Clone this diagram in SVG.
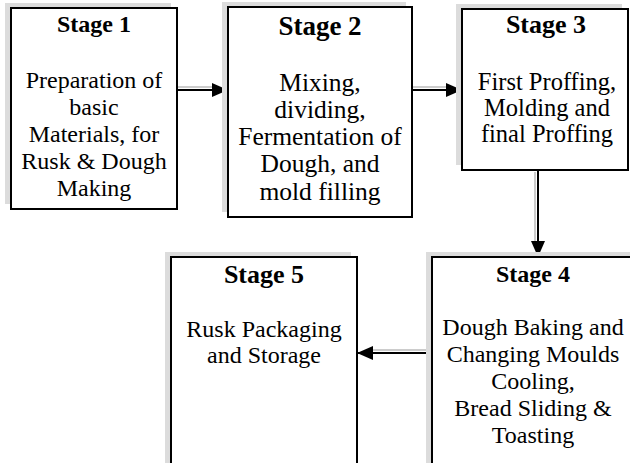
<svg xmlns="http://www.w3.org/2000/svg" width="630" height="463" viewBox="0 0 630 463">
<style>
.box{fill:#ffffff;stroke:#000000;stroke-width:2}
.shadow{fill:#dcdcdc}
.title{font-family:"Liberation Serif","Times New Roman",serif;font-weight:bold;text-anchor:middle;fill:#000}
.body{font-family:"Liberation Serif","Times New Roman",serif;text-anchor:middle;fill:#000}
.conn{stroke:#000;stroke-width:2;fill:none}
.connsh{stroke:#cccccc;stroke-width:2;fill:none}
</style>
<defs>
<marker id="ah" viewBox="0 0 16 14" refX="16" refY="7" markerWidth="16" markerHeight="14" orient="auto" markerUnits="userSpaceOnUse">
<path d="M0,0 L16,7 L0,14 Z" fill="#000"/>
</marker>
</defs>
<rect width="630" height="463" fill="#ffffff"/>
<g id="connectors">
<line class="connsh" x1="175" y1="87" x2="214" y2="87"/>
<line class="connsh" x1="410" y1="87" x2="448" y2="87"/>
<line class="connsh" x1="535" y1="172" x2="535" y2="243"/>
<line class="connsh" x1="430" y1="350" x2="371" y2="350"/>
<line class="conn" x1="178" y1="90" x2="228" y2="90" marker-end="url(#ah)"/>
<line class="conn" x1="413" y1="90" x2="462" y2="90" marker-end="url(#ah)"/>
<line class="conn" x1="538" y1="171" x2="538" y2="257" marker-end="url(#ah)"/>
<line class="conn" x1="431" y1="353" x2="357" y2="353" marker-end="url(#ah)"/>
</g>
<g id="stage1">
<rect class="shadow" x="5" y="3" width="166" height="201"/>
<rect class="box" x="11" y="8" width="166" height="201"/>
<text class="title" x="94" y="32" font-size="24">Stage 1</text>
<text class="body" font-size="24"><tspan x="94" y="88">Preparation of</tspan><tspan x="94" y="115">basic</tspan><tspan x="94" y="142">Materials, for</tspan><tspan x="94" y="169">Rusk &amp; Dough</tspan><tspan x="94" y="196">Making</tspan></text>
</g>
<g id="stage2">
<rect class="shadow" x="222" y="2" width="184" height="210"/>
<rect class="box" x="228" y="7" width="184" height="210"/>
<text class="title" x="320" y="35" font-size="27">Stage 2</text>
<text class="body" font-size="25.5"><tspan x="320" y="91">Mixing,</tspan><tspan x="320" y="118">dividing,</tspan><tspan x="320" y="145">Fermentation of</tspan><tspan x="320" y="172">Dough, and</tspan><tspan x="320" y="200">mold filling</tspan></text>
</g>
<g id="stage3">
<rect class="shadow" x="456" y="4" width="166" height="161"/>
<rect class="box" x="462" y="9" width="166" height="161"/>
<text class="title" x="546" y="33" font-size="26">Stage 3</text>
<text class="body" font-size="24.5"><tspan x="547" y="90">First Proffing,</tspan><tspan x="547" y="116">Molding and</tspan><tspan x="547" y="142">final Proffing</tspan></text>
</g>
<g id="stage4">
<rect class="shadow" x="426" y="252" width="210" height="220"/>
<rect class="box" x="432" y="257" width="210" height="220"/>
<text class="title" x="533" y="282" font-size="24">Stage 4</text>
<text class="body" font-size="24"><tspan x="533" y="335">Dough Baking and</tspan><tspan x="533" y="362">Changing Moulds</tspan><tspan x="533" y="389">Cooling,</tspan><tspan x="533" y="416">Bread Sliding &amp;</tspan><tspan x="533" y="443">Toasting</tspan></text>
</g>
<g id="stage5">
<rect class="shadow" x="165" y="252" width="186" height="220"/>
<rect class="box" x="171" y="257" width="186" height="220"/>
<text class="title" x="264" y="283" font-size="26">Stage 5</text>
<text class="body" font-size="24"><tspan x="264" y="337">Rusk Packaging</tspan><tspan x="264" y="363">and Storage</tspan></text>
</g>
</svg>
